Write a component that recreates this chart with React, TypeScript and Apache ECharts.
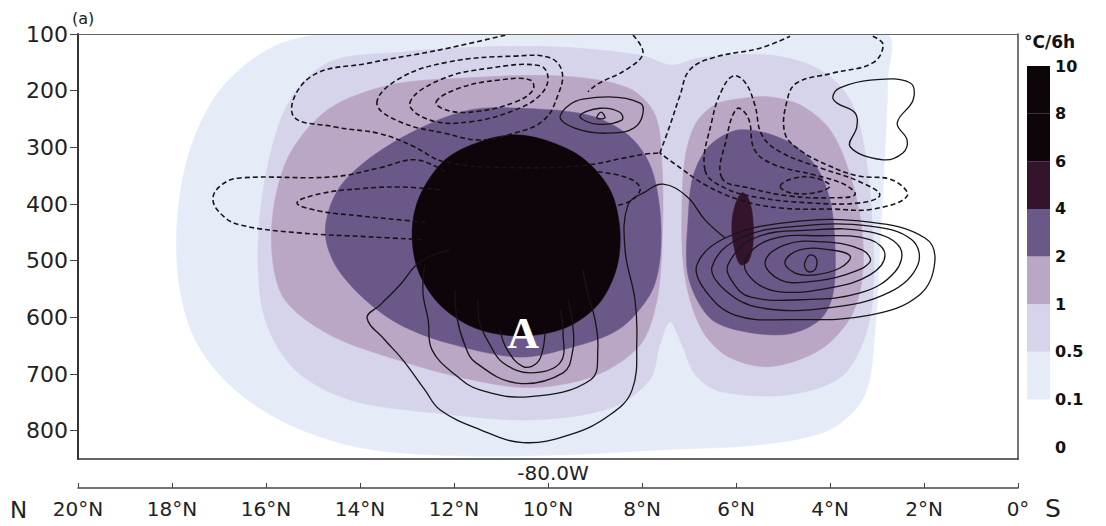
import React, { useEffect, useRef } from "react";
import * as echarts from "echarts";

type Pt = [number, number];

// ---------- axes ----------
const latMin = 0;
const latMax = 20;
const latStep = 2;
const pressureTop = 100;
const pressureBottom = 850;
const pressureStep = 100;

// ---------- colour scale (°C/6h) ----------
const levelLabels = ["0", "0.1", "0.5", "1", "2", "4", "6", "8", "10"];
const levelColors = ["#ffffff", "#e5ecf7", "#d5d4ea", "#baa6c5", "#6a5888", "#34142c", "#0d0509", "#0d0509"];

// ---------- shaded regions [latitude °N, pressure hPa] ----------
const shade01: Pt[] = [[14.64,100],[15.91,125],[16.98,199],[17.62,305],[17.89,428],[17.83,552],[17.45,649],[16.66,728],[15.49,790],[14.0,830],[12.09,844],[9.74,843],[7.62,834],[5.49,825],[4.0,798],[3.26,737],[3.04,622],[2.94,481],[2.83,305],[2.77,181],[2.83,100]];
const shade05: Pt[] = [[13.15,132],[14.64,149],[15.49,216],[15.98,338],[16.17,481],[16.02,604],[15.38,693],[14.21,746],[12.51,768],[10.38,781],[8.66,760],[7.83,710],[7.62,649],[7.40,608],[7.15,649],[6.87,701],[6.34,731],[4.91,737],[3.79,707],[3.32,649],[3.09,569],[3.09,446],[3.26,305],[3.57,216],[4.21,163],[5.28,137],[6.77,142],[7.36,155],[8.04,137],[9.74,123],[11.45,123]];
const shade1West: Pt[] = [[11.87,178],[13.36,190],[14.64,231],[15.45,305],[15.81,393],[15.87,490],[15.60,569],[14.64,631],[13.21,675],[11.81,707],[10.38,724],[9.00,703],[8.04,649],[7.68,569],[7.57,463],[7.57,340],[7.72,243],[8.30,195],[9.74,174]];
const shade1East: Pt[] = [[5.81,213],[6.45,225],[6.87,260],[7.09,322],[7.15,410],[7.13,499],[6.98,569],[6.66,631],[6.13,671],[5.28,687],[4.21,657],[3.57,601],[3.32,534],[3.32,446],[3.57,349],[4.00,269],[4.64,225],[5.28,211]];
const shade2West: Pt[] = [[10.60,231],[11.66,234],[12.72,266],[13.79,319],[14.47,375],[14.74,446],[14.53,507],[13.89,569],[13.15,613],[12.15,645],[10.66,670],[9.68,657],[8.51,622],[7.83,560],[7.62,499],[7.62,410],[7.83,331],[8.30,278],[9.15,243]];
const shade2East: Pt[] = [[5.91,269],[6.55,296],[6.91,350],[7.02,428],[7.04,516],[6.83,569],[6.45,608],[5.70,627],[4.85,629],[4.21,604],[3.94,560],[3.89,481],[4.00,393],[4.32,331],[4.96,287]];
const shade4East: Pt[] = [[5.87,380],[6.02,402],[6.09,437],[6.04,477],[5.91,507],[5.74,502],[5.64,472],[5.64,428],[5.72,393]];
const shade6West: Pt[] = [[10.70,278],[11.45,290],[12.19,322],[12.72,384],[12.89,446],[12.77,516],[12.30,578],[11.55,619],[10.60,633],[9.64,619],[8.94,578],[8.55,516],[8.47,446],[8.68,375],[9.26,319],[9.96,290]];

// ---------- dashed contours ----------
const dashUpperOuter: Pt[] = [[10.91,102],[12.30,128],[13.79,151],[15.06,176],[15.43,243],[14.53,264],[13.57,276],[12.87,298],[12.19,326],[10.60,336],[9.15,331],[8.40,319],[7.94,312],[7.62,310]];
const dashUpper2: Pt[] = [[13.64,222],[13.15,178],[12.09,149],[10.72,139],[9.96,142],[9.70,167],[9.79,208],[10.09,252],[10.72,275],[11.45,287],[12.15,276],[13.15,255]];
const dashUpper3: Pt[] = [[12.94,222],[12.30,181],[11.23,160],[10.17,156],[10.00,178],[10.17,208],[10.70,234],[11.66,255],[12.51,252]];
const dashUpper4: Pt[] = [[12.38,220],[11.87,195],[11.02,181],[10.38,181],[10.32,199],[10.70,220],[11.45,236],[12.09,236]];
const dashTopBranch: Pt[] = [[8.19,102],[7.98,134],[8.32,162],[8.94,188],[9.15,202]];
const dashSaddleUp: Pt[] = [[7.62,310],[7.40,260],[7.19,208],[6.98,163],[6.45,141],[5.49,125],[4.85,104]];
const dashMidOuter: Pt[] = [[12.19,343],[12.81,322],[13.57,336],[14.57,352],[16.55,354],[16.94,366],[17.13,391],[16.94,419],[16.55,437],[15.28,451],[13.79,458],[12.62,463]];
const dashMidInner: Pt[] = [[12.30,375],[13.15,370],[14.00,373],[14.85,382],[15.34,398],[14.89,412],[14.00,421],[13.15,428],[12.62,432]];
const dashCoreEdge: Pt[] = [[8.94,343],[8.30,354],[8.04,372],[8.21,393],[8.51,402]];
const dashEastOuter: Pt[] = [[3.09,104],[2.87,119],[3.09,151],[3.94,169],[4.70,186],[4.91,216],[4.96,275],[4.64,305],[4.06,331],[3.43,350],[2.66,358],[2.36,386],[3.09,409],[3.94,409],[5.06,407],[5.91,393],[6.66,366],[7.19,336],[7.62,310]];
const dashEast2: Pt[] = [[6.66,340],[6.51,252],[6.30,199],[6.06,174],[5.81,185],[5.60,225],[5.45,278],[5.06,308],[4.21,336],[3.36,361],[2.94,384],[3.36,398],[4.43,398],[5.49,389],[6.23,372]];
const dashEast3: Pt[] = [[6.30,354],[6.21,287],[5.98,232],[5.74,248],[5.60,305],[5.17,331],[4.32,349],[3.68,366],[3.47,384],[4.00,389],[4.85,386],[5.70,372]];
const dashEast4: Pt[] = [[5.06,368],[4.74,354],[4.32,354],[4.00,368],[4.32,380],[4.85,380]];

// ---------- solid contours ----------
const solidSmall1: Pt[] = [[9.74,245],[9.26,215],[8.04,222],[8.11,262],[8.74,275],[9.43,266]];
const solidSmall2: Pt[] = [[9.32,245],[8.89,231],[8.47,238],[8.43,252],[8.96,259]];
const solidSmall3: Pt[] = [[8.96,248],[8.87,238],[8.79,248]];
const solidHourglass: Pt[] = [[3.94,211],[3.79,195],[3.09,181],[2.30,186],[2.23,216],[2.57,257],[2.36,287],[2.45,310],[2.87,322],[3.57,299],[3.43,264],[3.47,239],[3.85,222]];
const solidEast1: Pt[] = [[4.53,502],[4.43,490],[4.30,495],[4.30,513],[4.43,520],[4.53,513]];
const solidEast2: Pt[] = [[4.96,502],[4.64,481],[4.00,481],[3.57,492],[3.79,513],[4.32,525],[4.74,522]];
const solidEast3: Pt[] = [[5.38,502],[4.96,472],[4.11,467],[3.32,481],[3.15,502],[3.68,525],[4.43,537],[5.06,534]];
const solidEast4: Pt[] = [[5.81,502],[5.28,463],[4.21,456],[3.15,463],[2.83,490],[3.15,525],[4.00,548],[5.06,555],[5.60,537]];
const solidEast5: Pt[] = [[6.17,507],[5.60,460],[4.43,446],[3.15,449],[2.51,477],[2.62,520],[3.36,557],[4.64,569],[5.70,564],[6.06,539]];
const solidEast6: Pt[] = [[6.51,511],[5.91,460],[4.64,439],[3.15,439],[2.26,463],[2.13,507],[2.72,555],[4.00,583],[5.49,583],[6.23,552]];
const solidEast7: Pt[] = [[6.83,507],[6.23,460],[4.85,432],[3.15,432],[1.98,460],[1.77,502],[2.09,560],[3.15,596],[4.85,604],[6.02,596],[6.66,552]];
const solidWest1: Pt[] = [[12.09,481],[12.72,502],[13.15,543],[13.57,578],[13.85,601],[13.47,640],[13.09,675],[12.62,728],[12.30,763],[11.45,798],[10.53,821],[9.53,807],[8.68,772],[8.21,728],[8.11,640],[8.15,569],[8.36,481],[8.30,402],[7.94,379],[7.55,365],[7.04,387],[6.66,428],[6.23,460]];
const solidWest2: Pt[] = [[12.62,507],[12.66,557],[12.55,604],[12.47,657],[11.98,701],[11.45,728],[10.38,740],[9.09,710],[8.94,657],[9.00,604],[9.15,560],[9.26,516]];
const solidWest3: Pt[] = [[11.98,552],[11.94,599],[11.77,649],[11.55,679],[10.66,716],[9.68,698],[9.47,657],[9.47,617],[9.57,569]];
const solidWest4: Pt[] = [[11.49,569],[11.45,610],[11.23,649],[10.96,680],[10.38,698],[9.74,680],[9.68,627],[9.74,587]];
const solidWest5: Pt[] = [[11.02,622],[10.87,657],[10.53,687],[10.23,680],[10.11,657],[10.06,622]];

const markerA: Pt = [10.53, 629];

const FONT = "DejaVu Sans";

function areaSeries(pts: Pt[], color: string) {
  return {
    type: "custom",
    xAxisIndex: 0,
    yAxisIndex: 0,
    clip: true,
    silent: true,
    encode: { x: 0, y: 1 },
    data: pts,
    renderItem: (params: any, api: any) => {
      if (params.dataIndex !== 0) return null;
      return {
        type: "polygon",
        shape: { points: pts.map((p) => api.coord(p)), smooth: 0.32 },
        style: { fill: color, stroke: color, lineWidth: 0.5 },
      };
    },
  };
}

function lineSeries(pts: Pt[], closed: boolean, dashed: boolean) {
  return {
    type: "custom",
    xAxisIndex: 0,
    yAxisIndex: 0,
    clip: true,
    silent: true,
    encode: { x: 0, y: 1 },
    data: pts,
    renderItem: (params: any, api: any) => {
      if (params.dataIndex !== 0) return null;
      return {
        type: closed ? "polygon" : "polyline",
        shape: { points: pts.map((p) => api.coord(p)), smooth: 0.4 },
        style: {
          fill: "none",
          stroke: "#161616",
          lineWidth: dashed ? 1.6 : 1.3,
          lineDash: dashed ? [5, 3] : null,
        },
      };
    },
  };
}

export default function App() {
  const ref = useRef<HTMLDivElement>(null);

  useEffect(() => {
    if (!ref.current) return;
    const chart = echarts.init(ref.current, null, { renderer: "svg" });

    const areas = [
      areaSeries(shade01, levelColors[1]),
      areaSeries(shade05, levelColors[2]),
      areaSeries(shade1West, levelColors[3]),
      areaSeries(shade1East, levelColors[3]),
      areaSeries(shade2West, levelColors[4]),
      areaSeries(shade2East, levelColors[4]),
      areaSeries(shade4East, levelColors[5]),
      areaSeries(shade6West, levelColors[6]),
    ];

    const dashedOpen = [dashUpperOuter, dashTopBranch, dashSaddleUp, dashMidOuter, dashMidInner, dashCoreEdge, dashEastOuter];
    const dashedClosed = [dashUpper2, dashUpper3, dashUpper4, dashEast2, dashEast3, dashEast4];
    const solidOpen = [solidWest1, solidWest2, solidWest3, solidWest4, solidWest5];
    const solidClosed = [solidSmall1, solidSmall2, solidSmall3, solidHourglass, solidEast1, solidEast2, solidEast3, solidEast4, solidEast5, solidEast6, solidEast7];

    const lines = [
      ...dashedOpen.map((p) => lineSeries(p, false, true)),
      ...dashedClosed.map((p) => lineSeries(p, true, true)),
      ...solidOpen.map((p) => lineSeries(p, false, false)),
      ...solidClosed.map((p) => lineSeries(p, true, false)),
    ];

    const labelSeries = {
      type: "custom",
      xAxisIndex: 0,
      yAxisIndex: 0,
      silent: true,
      encode: { x: 0, y: 1 },
      data: [markerA],
      renderItem: (params: any, api: any) => {
        const c = api.coord([api.value(0), api.value(1)]);
        return {
          type: "text",
          x: c[0],
          y: c[1],
          style: {
            text: "A",
            fill: "#ffffff",
            fontSize: 44,
            fontWeight: "bold",
            fontFamily: "Liberation Serif",
            align: "center",
            verticalAlign: "middle",
            textAlign: "center",
            textVerticalAlign: "middle",
          },
        };
      },
    };

    const colorbarSeries = {
      type: "custom",
      xAxisIndex: 3,
      yAxisIndex: 2,
      silent: true,
      encode: { x: 0, y: 1 },
      data: levelColors.map((_, i) => [0, i]),
      renderItem: (params: any, api: any) => {
        const i = api.value(1);
        const bl = api.coord([0, i]);
        const tr = api.coord([1, i + 1]);
        return {
          type: "rect",
          shape: { x: bl[0], y: tr[1], width: tr[0] - bl[0], height: bl[1] - tr[1] },
          style: { fill: levelColors[params.dataIndex] },
        };
      },
    };

    const lineOnly = (extra: any) => ({
      axisLabel: { show: false },
      axisTick: { show: false },
      splitLine: { show: false },
      z: 10,
      ...extra,
    });

    chart.setOption({
      animation: false,
      backgroundColor: "#ffffff",
      grid: [
        { left: 78, top: 34, width: 940, height: 425 },
        { left: 1027, top: 66, width: 23, height: 381 },
      ],
      xAxis: [
        {
          type: "value",
          gridIndex: 0,
          min: latMin,
          max: latMax,
          interval: latStep,
          inverse: true,
          position: "bottom",
          offset: 29,
          z: 10,
          axisLine: { show: true, lineStyle: { color: "#444", width: 1.5 } },
          axisTick: { show: true, inside: true, length: 5, lineStyle: { color: "#444" } },
          axisLabel: {
            fontSize: 20,
            fontFamily: FONT,
            color: "#222",
            margin: 11,
            formatter: (v: number) => (v === 0 ? "0°" : `${v}°N`),
          },
          splitLine: { show: false },
        },
        lineOnly({
          type: "value",
          gridIndex: 0,
          min: latMin,
          max: latMax,
          inverse: true,
          position: "bottom",
          axisLine: { show: true, onZero: false, lineStyle: { color: "#333", width: 1.6 } },
        }),
        lineOnly({
          type: "value",
          gridIndex: 0,
          min: latMin,
          max: latMax,
          inverse: true,
          position: "top",
          axisLine: { show: true, onZero: false, lineStyle: { color: "#666", width: 1.2 } },
        }),
        {
          type: "value",
          gridIndex: 1,
          min: 0,
          max: 1,
          show: false,
        },
      ],
      yAxis: [
        {
          type: "value",
          gridIndex: 0,
          min: pressureTop,
          max: pressureBottom,
          interval: pressureStep,
          inverse: true,
          z: 10,
          axisLine: { show: true, onZero: false, lineStyle: { color: "#333", width: 2 } },
          axisTick: { show: true, length: 8, lineStyle: { color: "#444" } },
          axisLabel: { fontSize: 22, fontFamily: FONT, color: "#222", margin: 10, showMaxLabel: false },
          splitLine: { show: false },
        },
        lineOnly({
          type: "value",
          gridIndex: 0,
          min: pressureTop,
          max: pressureBottom,
          inverse: true,
          position: "right",
          axisLine: { show: true, onZero: false, lineStyle: { color: "#444", width: 1.5 } },
        }),
        {
          type: "value",
          gridIndex: 1,
          min: 0,
          max: levelLabels.length - 1,
          interval: 1,
          position: "right",
          axisLine: { show: false },
          axisTick: { show: false },
          splitLine: { show: false },
          axisLabel: {
            fontSize: 16,
            fontWeight: "bold",
            fontFamily: FONT,
            color: "#111",
            margin: 5,
            formatter: (v: number) => levelLabels[Math.round(v)] ?? "",
          },
        },
      ],
      graphic: [
        { type: "text", x: 72, y: 18, style: { text: "(a)", fontSize: 16, fontFamily: FONT, fill: "#222", verticalAlign: "middle", textVerticalAlign: "middle" } },
        { type: "text", x: 553, y: 473, style: { text: "-80.0W", fontSize: 20, fontFamily: FONT, fill: "#222", align: "center", textAlign: "center", verticalAlign: "middle", textVerticalAlign: "middle" } },
        { type: "text", x: 10, y: 510, style: { text: "N", fontSize: 23, fontFamily: FONT, fill: "#222", verticalAlign: "middle", textVerticalAlign: "middle" } },
        { type: "text", x: 1045, y: 508, style: { text: "S", fontSize: 25, fontFamily: FONT, fill: "#222", verticalAlign: "middle", textVerticalAlign: "middle" } },
        { type: "text", x: 1024, y: 42, style: { text: "°C/6h", fontSize: 17, fontWeight: "bold", fontFamily: FONT, fill: "#111", verticalAlign: "middle", textVerticalAlign: "middle" } },
      ],
      series: [...areas, ...lines, labelSeries, colorbarSeries],
    });

    return () => chart.dispose();
  }, []);

  return <div ref={ref} style={{ position: "absolute", left: 0, top: 0, width: 1106, height: 526 }} />;
}
